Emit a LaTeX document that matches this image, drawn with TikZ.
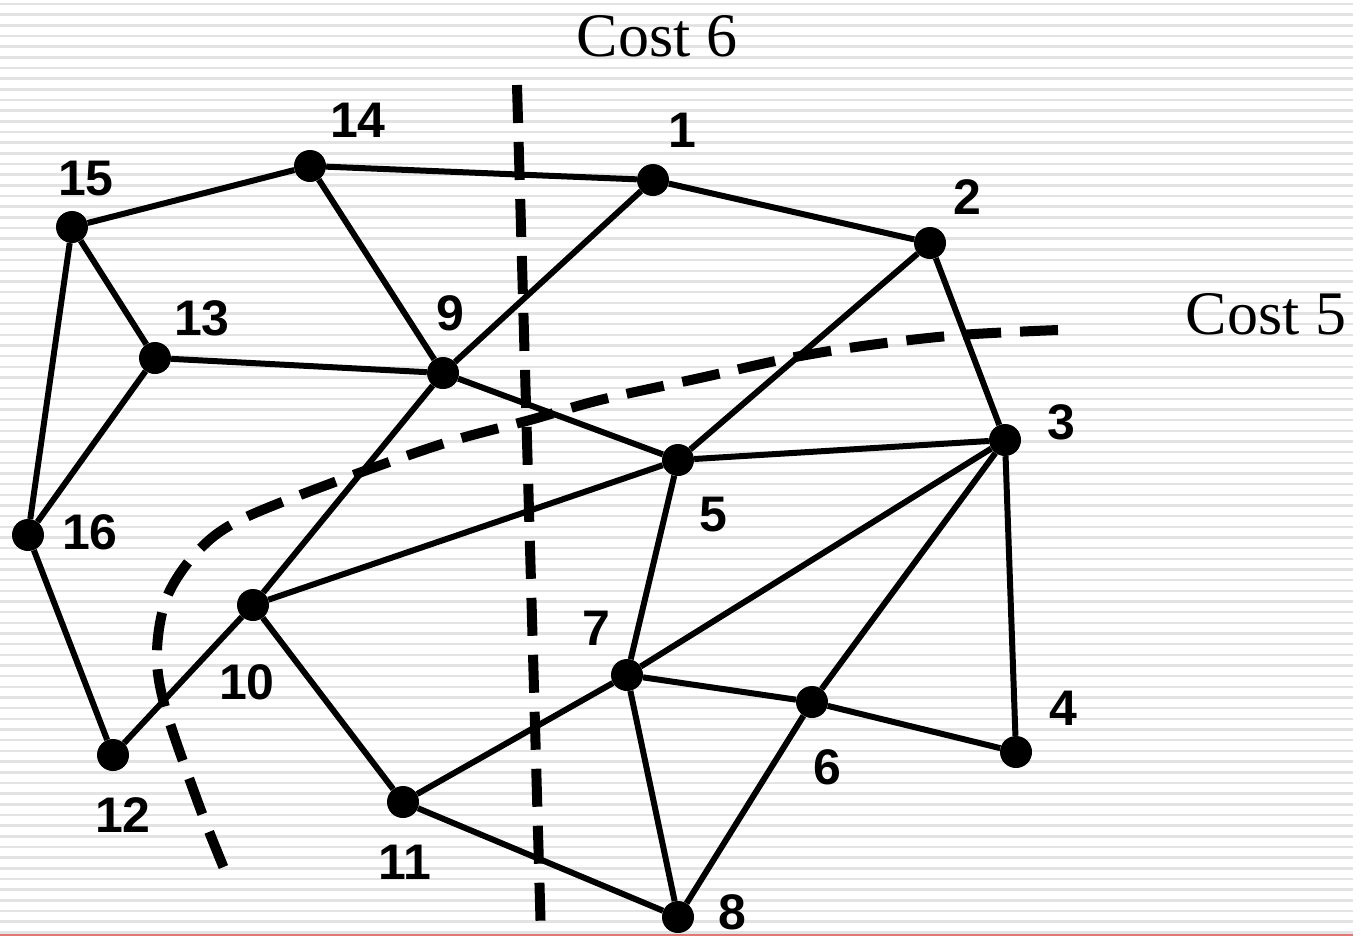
\documentclass[tikz,border=0pt]{standalone}
\usepackage{fontspec}
\setmainfont{Liberation Serif}
\newfontfamily\labfont{Liberation Sans}
\begin{document}
\begin{tikzpicture}[x=1pt,y=-1pt,
  dot/.style={circle,fill=black,inner sep=0pt,minimum size=32pt},
  lbl/.style={font=\labfont\bfseries\fontsize{50}{50}\selectfont,inner sep=0pt},
  cost/.style={font=\fontsize{62}{62}\selectfont,inner sep=0pt},
  edge/.style={line width=6pt,black},
  cut/.style={line width=10pt,black,dash pattern=on 38pt off 19pt},
  stripe/.style={line width=2.5pt,color=black!11}]
\useasboundingbox (0,0) rectangle (1353,938);
\fill[white] (0,0) rectangle (1353,938);
\foreach \k in {0,...,87} \draw[stripe] (0,{4+\k*10.67}) -- (1353,{4+\k*10.67});
\draw[line width=2pt,color={rgb,255:red,224;green,120;blue,120}] (0,935) -- (1353,935);

% nodes
\node[dot] (n1) at (653,180) {};
\node[dot] (n2) at (930,243) {};
\node[dot] (n3) at (1005,440) {};
\node[dot] (n4) at (1016,752) {};
\node[dot] (n5) at (678,460) {};
\node[dot] (n6) at (812,702) {};
\node[dot] (n7) at (627,675) {};
\node[dot] (n8) at (678,917) {};
\node[dot] (n9) at (443,373) {};
\node[dot] (n10) at (253,605) {};
\node[dot] (n11) at (403,802) {};
\node[dot] (n12) at (113,755) {};
\node[dot] (n13) at (155,358) {};
\node[dot] (n14) at (310,166) {};
\node[dot] (n15) at (72,227) {};
\node[dot] (n16) at (28,535) {};

% edges
\foreach \a/\b in {15/14,14/1,1/2,2/3,3/4,15/13,15/16,13/16,13/9,14/9,9/1,9/5,9/10,2/5,5/3,5/10,5/7,3/7,3/6,6/4,7/6,7/11,7/8,6/8,10/11,10/12,16/12,11/8}
  \draw[edge] (n\a) -- (n\b);

% labels
\node[lbl] (l1) at (682,130) {1};
\node[lbl] (l2) at (967,197) {2};
\node[lbl] (l3) at (1061,422) {3};
\node[lbl] (l4) at (1063,708) {4};
\node[lbl] (l5) at (713,515) {5};
\node[lbl] (l6) at (827,767) {6};
\node[lbl] (l7) at (596,628) {7};
\node[lbl] (l8) at (732,912) {8};
\node[lbl] (l9) at (450,313) {9};
\node[lbl] (l10) at (247,682) {10};
\node[lbl] (l11) at (405,862) {11};
\node[lbl] (l12) at (123,815) {12};
\node[lbl] (l13) at (202,318) {13};
\node[lbl] (l14) at (358,120) {14};
\node[lbl] (l15) at (86,179) {15};
\node[lbl] (l16) at (90,532) {16};

% cuts
\draw[cut] (517,85) -- (541,938);
\draw[cut] plot[smooth,tension=0.55] coordinates {(1058,330) (960,335) (870,345) (790,358) (700,378) (600,400) (530,420) (445,443) (340,480) (240,520) (197,552) (167,597) (157,652) (165,707) (200,808) (228,878)};

\node[cost] (c6) at (657,36) {Cost 6};
\node[cost] (c5) at (1266,314) {Cost 5};
\end{tikzpicture}
\end{document}
